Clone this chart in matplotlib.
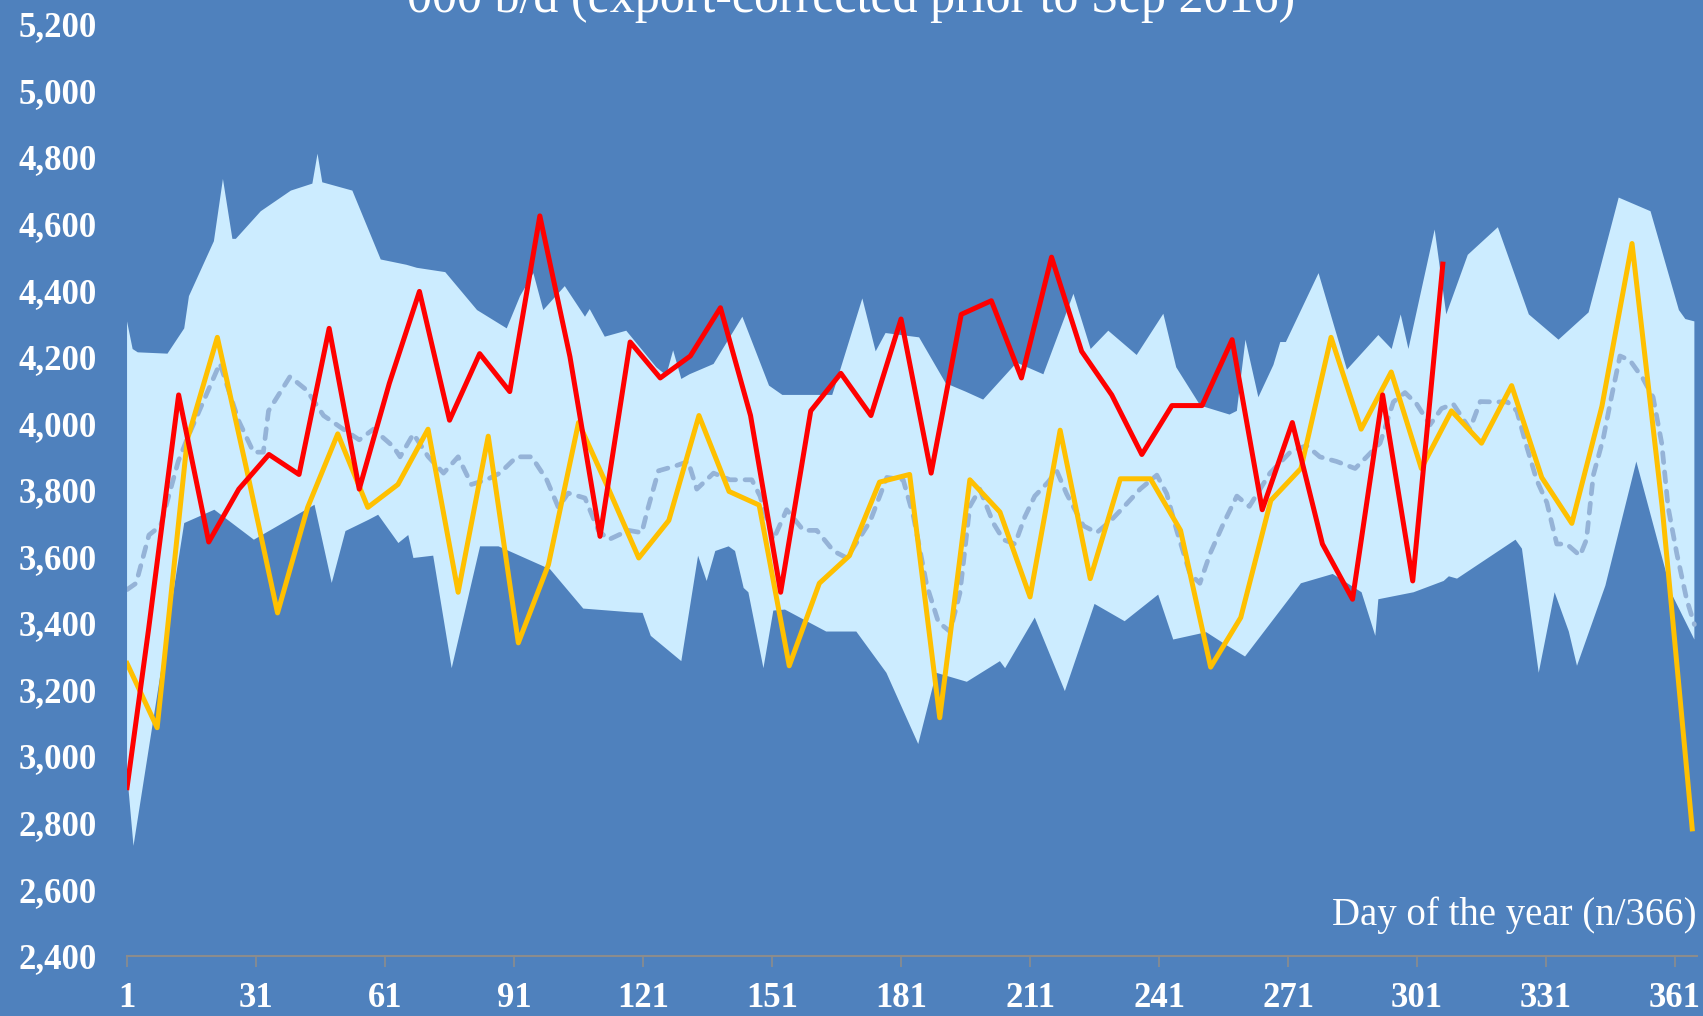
import matplotlib
matplotlib.use('Agg')
import matplotlib.pyplot as plt
from matplotlib.ticker import FuncFormatter

BG = '#4F81BD'

# 5-yr range (upper / lower edge), day of year -> '000 b/d
hi_day = [1, 2.3, 3.5, 10.4, 14.3, 15.4, 21.2, 23.3, 25.5, 26.3, 32.1, 39.1, 44.1, 45.3, 46.4,
          53.4, 60, 66, 68.4, 75, 82.4, 89.3, 92.4, 95.5, 97.8, 102.8, 107.5, 108.6, 112.1,
          117.1, 124.1, 126.4, 128, 129.9, 131.8, 137.4, 144.1, 150.3, 153.4, 165, 166.2, 172,
          175.1, 177.4, 185.2, 191.4, 196, 200.1, 207.9, 214.1, 221.1, 225.1, 229.2, 235.8, 242,
          245, 250.6, 257.4, 259.1, 261.1, 264.1, 267.6, 269.2, 270.5, 278.1, 284.7, 292, 295.1,
          297.2, 299, 305.1, 307.8, 312.8, 319.8, 327, 333.9, 340.9, 347.9, 355.3, 361.9, 363.4,
          365.5]
hi_val = [4306, 4223, 4213, 4209, 4285, 4382, 4547, 4734, 4554, 4554, 4637, 4699, 4720, 4810, 4724,
          4699, 4492, 4476, 4467, 4454, 4340, 4285, 4382, 4451, 4340, 4412, 4320, 4343, 4260,
          4278, 4168, 4144, 4219, 4133, 4147, 4178, 4320, 4113, 4085, 4085, 4133, 4375,
          4216, 4271, 4258, 4120, 4095, 4071, 4182, 4147, 4389, 4223, 4278, 4205, 4329,
          4168, 4053, 4026, 4037, 4251, 4078, 4175, 4244, 4244, 4451, 4161, 4265, 4223,
          4327, 4223, 4582, 4327, 4506, 4589, 4327, 4251, 4333, 4678, 4637, 4340, 4313,
          4306]

lo_day = [1, 2.5, 14.3, 21.3, 30.5, 44.6, 48.6, 51.8, 57.2, 59.4, 64.1, 66.4, 67.6, 72.2, 76.5,
          83.1, 87.4, 99.4, 107.1, 117.9, 120.9, 122.8, 129.9, 133.8, 135.8, 137.8, 140.9, 142.4,
          144.4, 145.5, 149, 151.3, 154, 163.6, 170.6, 177.6, 185, 189.2, 196.3, 204, 205.2,
          212.1, 219.1, 226, 233, 240.8, 244.3, 252, 256.7, 261, 274, 281.4, 288.1, 291.3, 292,
          300.2, 307.2, 308.4, 310.3, 323.9, 325.4, 329.3, 333, 336.3, 338.2, 344.8, 352, 360.3,
          365.5]
lo_val = [2950, 2730, 3700, 3740, 3650, 3755, 3520, 3676, 3710, 3725, 3640, 3664, 3595, 3602, 3264,
          3630, 3630, 3561, 3443, 3432, 3430, 3361, 3285, 3602, 3526, 3616, 3630, 3616,
          3505, 3492, 3264, 3437, 3440, 3374, 3374, 3250, 3036, 3250, 3223, 3285, 3264,
          3416, 3195, 3457, 3405, 3485, 3350, 3372, 3333, 3299, 3519, 3547, 3492, 3361, 3471,
          3492, 3526, 3540, 3533, 3650, 3623, 3250, 3492, 3374, 3271, 3512, 3885, 3485,
          3350]

# 5-yr average
avg_day = [1, 3.1, 6.1, 8.8, 12.9, 15, 22.6, 26.9, 30.4, 32.7, 33.9, 38.9, 42.8, 46.7, 50.5, 55,
           58.3, 62.9, 64.5, 67.6, 71, 74.6, 78, 81.1, 84.6, 87.7, 91.6, 95.1, 98.6, 101.3, 103.6,
           107.5, 110.6, 113, 117.6, 120.7, 122.2, 124.6, 128.4, 131.5, 133.5, 137.4, 141.2,
           146.3, 148.2, 151.3, 154.4, 158.3, 161.4, 165.3, 168.4, 173.8, 177.7, 181.5, 183.9,
           187, 189.7, 192.4, 194.7, 197, 199.3, 202.5, 204.8, 207.5, 209.8, 212.1, 215.2, 217.2,
           219.5, 223.4, 226.5, 229.6, 232.7, 236.6, 240.5, 242.8, 245.1, 248.2, 250.5, 252.9,
           256, 259.1, 262, 266.8, 271.5, 275.3, 278.4, 282.3, 286.6, 289.3, 292.4, 295.5, 298.2,
           300.9, 304, 306.7, 309.4, 313.3, 315.7, 318.8, 322, 324.2, 326.5, 328.8, 331.2, 333.5,
           335.8, 338.9, 340.4, 342, 344.3, 346.2, 348.2, 350.5, 353.6, 355.9, 357.9, 359.4,
           361.4, 363.7, 365.5]
avg_val = [3500, 3519, 3664, 3692, 3885, 3954, 4180, 4009, 3913, 3913, 4037, 4140, 4099, 4023, 3989, 3950,
           3982, 3930, 3899, 3968, 3900, 3850, 3899, 3816, 3830, 3850, 3899, 3899, 3830, 3747, 3790,
           3775, 3678, 3650, 3678, 3671, 3747, 3857, 3871, 3885, 3802, 3850, 3830,
           3830, 3781, 3650, 3740, 3678, 3678, 3616, 3595, 3705, 3837, 3830, 3719,
           3512, 3402, 3374, 3490, 3750, 3802, 3699, 3650, 3637, 3719, 3781, 3823, 3857,
           3788, 3692, 3671, 3705, 3747, 3802, 3844, 3788, 3678, 3547, 3519, 3609,
           3699, 3781, 3750, 3850, 3913, 3933, 3899, 3885, 3864, 3899, 3940, 4064, 4092,
           4058, 3995, 4044, 4058, 3982, 4065, 4064, 4064, 4037, 3930, 3830, 3761, 3637,
           3637, 3602, 3650, 3844, 3954, 4078, 4202, 4189, 4133, 4078, 3940, 3747,
           3609, 3471, 3395]

# 2016 weekly (yellow)
y16_day = list(range(1, 366, 7))
y16_val = [3278, 3085, 3950, 4258, 3850, 3430, 3747, 3968, 3747, 3816, 3982, 3492, 3961, 3340,
           3575, 4002, 3802, 3595, 3708, 4023, 3795, 3754, 3271, 3519, 3602, 3823, 3846, 3115,
           3830, 3733, 3478, 3979, 3533, 3833, 3833, 3678, 3267, 3416, 3768, 3864, 4258, 3982,
           4154, 3864, 4037, 3940, 4113, 3837, 3699, 4051, 4540, 3750, 2781]

# 2017 weekly (red)
y17_day = [1] + list(range(6, 308, 7))
y17_val = [2905, 3380, 4085, 3643, 3802, 3906, 3846, 4285, 3802, 4120, 4396, 4009, 4209, 4095,
           4623, 4200, 3660, 4244, 4136, 4202, 4347, 4023, 3492, 4037, 4150, 4023, 4313, 3850,
           4327, 4368, 4136, 4499, 4216, 4085, 3906, 4053, 4053, 4251, 3740, 4002, 3637, 3471,
           4085, 3526, 4478]

xticks = list(range(1, 362, 30))
yticks = list(range(2400, 5201, 200))

fig = plt.figure(figsize=(17.03, 10.16), dpi=100, facecolor=BG)
ax = fig.add_axes([0.0746, 0.0594, 0.9216, 0.9171])
ax.set_facecolor(BG)

# range band as one polygon: upper edge then lower edge back
ax.fill(hi_day + lo_day[::-1], hi_val + lo_val[::-1], color='#CCECFF', lw=0, zorder=1)

ax.plot(avg_day, avg_val, color='#95B3D7', lw=3.4, linestyle=(0, (2.1, 2.0)),
        dash_capstyle='round', zorder=2)
ax.plot(y16_day, y16_val, color='#FFC000', lw=3.6, solid_joinstyle='round', zorder=3)
ax.plot(y17_day, y17_val, color='#FF0000', lw=3.6, solid_joinstyle='round', zorder=4)

ax.set_xlim(1, 366)
ax.set_ylim(2400, 5200)
ax.set_xticks(xticks)
ax.set_yticks(yticks)
ax.yaxis.set_major_formatter(FuncFormatter(lambda v, p: '{:,.0f}'.format(v)))

for s in ['top', 'right', 'left']:
    ax.spines[s].set_visible(False)
ax.spines['bottom'].set_color('#8C8C8C')
ax.spines['bottom'].set_linewidth(1.5)
ax.spines['bottom'].set_zorder(5)

ax.tick_params(axis='x', direction='out', length=8, width=1.2, color='#8C8C8C', pad=11)
ax.tick_params(axis='y', length=0, pad=22)
for lab in ax.get_xticklabels() + ax.get_yticklabels():
    lab.set_family('Liberation Serif')
    lab.set_fontsize(25)
    lab.set_fontweight('bold')
    lab.set_color('white')

ax.text(1.0, 0.033, 'Day of the year (n/366)', transform=ax.transAxes, ha='right',
        va='baseline', fontsize=28, color='white', family='Liberation Serif', zorder=6)

# title line sits partly above the top edge, as in the source image
fig.text(0.5, 0.9882, '000 b/d (export-corrected prior to Sep 2016)', ha='center',
         va='baseline', fontsize=36, color='white', family='Liberation Serif')

fig.savefig('out.png', dpi=100, facecolor=BG)
